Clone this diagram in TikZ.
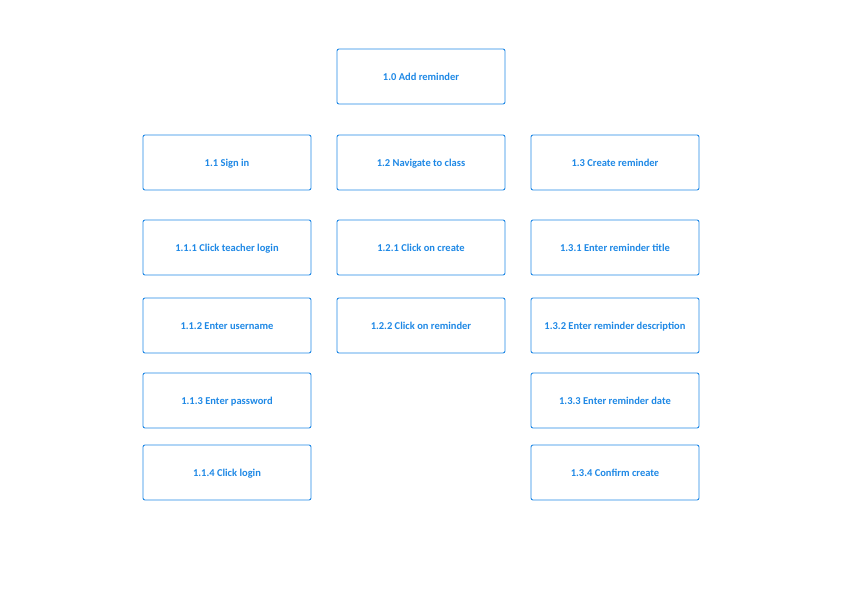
\documentclass[tikz,border=0pt]{standalone}
\usepackage{fontspec}
\setmainfont{Carlito}
\definecolor{boxblue}{HTML}{1E88E5}
\tikzset{
  task/.style={draw=boxblue, line width=0.9pt, rounded corners=2pt, minimum width=168pt, minimum height=55pt, inner sep=0pt, text=boxblue, font=\fontsize{10.5}{12}\selectfont\bfseries, text height=8pt, text depth=0pt, anchor=center}
}
\begin{document}
\begin{tikzpicture}[x=1pt,y=-1pt]
\useasboundingbox (0,0) rectangle (842,595);
\node[task] (n10) at (421,76.5) {1.0 Add reminder};
\node[task] (n11) at (227,162.5) {1.1 Sign in};
\node[task] (n12) at (421,162.5) {1.2 Navigate to class};
\node[task] (n13) at (615,162.5) {1.3 Create reminder};
\node[task] (n111) at (227,247.5) {1.1.1 Click teacher login};
\node[task] (n121) at (421,247.5) {1.2.1 Click on create};
\node[task] (n131) at (615,247.5) {1.3.1 Enter reminder title};
\node[task] (n112) at (227,325.5) {1.1.2 Enter username};
\node[task] (n122) at (421,325.5) {1.2.2 Click on reminder};
\node[task] (n132) at (615,325.5) {1.3.2 Enter reminder description};
\node[task] (n113) at (227,400.5) {1.1.3 Enter password};
\node[task] (n133) at (615,400.5) {1.3.3 Enter reminder date};
\node[task] (n114) at (227,472.5) {1.1.4 Click login};
\node[task] (n134) at (615,472.5) {1.3.4 Confirm create};
\end{tikzpicture}
\end{document}
